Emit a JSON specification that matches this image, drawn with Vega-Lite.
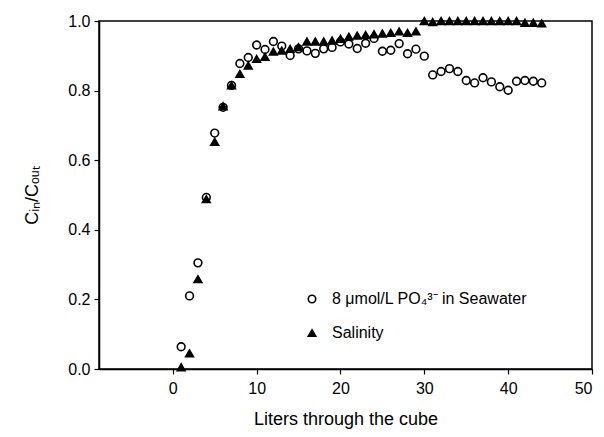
{
  "$schema": "https://vega.github.io/schema/vega-lite/v6.json",
  "width": 493,
  "height": 348,
  "autosize": {"type": "none"},
  "padding": {"left": 99, "top": 21, "right": 12, "bottom": 68},
  "background": "white",
  "config": {
    "font": "Liberation Sans",
    "view": {"stroke": "black", "strokeWidth": 1.5},
    "axis": {"grid": false, "domainColor": "black", "domainWidth": 1.5, "tickColor": "black", "tickWidth": 1.2, "tickSize": 5, "labelColor": "black", "labelFontSize": 16, "titleColor": "black", "titleFontSize": 18, "titleFontWeight": "normal", "labelFont": "Liberation Sans", "titleFont": "Liberation Sans"},
    "legend": {"title": null, "orient": "none", "legendX": 205, "legendY": 270, "labelFontSize": 16, "labelColor": "black", "labelOffset": 12, "labelLimit": 400, "rowPadding": 18, "symbolSize": 55, "symbolStrokeWidth": 1.6, "padding": 0}
  },
  "data": {"values": [
    {"L": 1, "s": "p", "v": 0.064}, {"L": 2, "s": "p", "v": 0.21}, {"L": 3, "s": "p", "v": 0.305}, {"L": 4, "s": "p", "v": 0.493},
    {"L": 5, "s": "p", "v": 0.678}, {"L": 6, "s": "p", "v": 0.752}, {"L": 7, "s": "p", "v": 0.815}, {"L": 8, "s": "p", "v": 0.878},
    {"L": 9, "s": "p", "v": 0.895}, {"L": 10, "s": "p", "v": 0.931}, {"L": 11, "s": "p", "v": 0.918}, {"L": 12, "s": "p", "v": 0.941},
    {"L": 13, "s": "p", "v": 0.928}, {"L": 14, "s": "p", "v": 0.901}, {"L": 15, "s": "p", "v": 0.92}, {"L": 16, "s": "p", "v": 0.914},
    {"L": 17, "s": "p", "v": 0.907}, {"L": 18, "s": "p", "v": 0.92}, {"L": 19, "s": "p", "v": 0.924}, {"L": 20, "s": "p", "v": 0.94},
    {"L": 21, "s": "p", "v": 0.934}, {"L": 22, "s": "p", "v": 0.921}, {"L": 23, "s": "p", "v": 0.936}, {"L": 24, "s": "p", "v": 0.95},
    {"L": 25, "s": "p", "v": 0.913}, {"L": 26, "s": "p", "v": 0.916}, {"L": 27, "s": "p", "v": 0.935}, {"L": 28, "s": "p", "v": 0.906},
    {"L": 29, "s": "p", "v": 0.919}, {"L": 30, "s": "p", "v": 0.899}, {"L": 31, "s": "p", "v": 0.845}, {"L": 32, "s": "p", "v": 0.855},
    {"L": 33, "s": "p", "v": 0.863}, {"L": 34, "s": "p", "v": 0.855}, {"L": 35, "s": "p", "v": 0.829}, {"L": 36, "s": "p", "v": 0.822},
    {"L": 37, "s": "p", "v": 0.837}, {"L": 38, "s": "p", "v": 0.825}, {"L": 39, "s": "p", "v": 0.811}, {"L": 40, "s": "p", "v": 0.801},
    {"L": 41, "s": "p", "v": 0.827}, {"L": 42, "s": "p", "v": 0.829}, {"L": 43, "s": "p", "v": 0.827}, {"L": 44, "s": "p", "v": 0.822},
    {"L": 1, "s": "s", "v": 0.005}, {"L": 2, "s": "s", "v": 0.045}, {"L": 3, "s": "s", "v": 0.258}, {"L": 4, "s": "s", "v": 0.488},
    {"L": 5, "s": "s", "v": 0.653}, {"L": 6, "s": "s", "v": 0.755}, {"L": 7, "s": "s", "v": 0.815}, {"L": 8, "s": "s", "v": 0.848},
    {"L": 9, "s": "s", "v": 0.872}, {"L": 10, "s": "s", "v": 0.891}, {"L": 11, "s": "s", "v": 0.897}, {"L": 12, "s": "s", "v": 0.912},
    {"L": 13, "s": "s", "v": 0.915}, {"L": 14, "s": "s", "v": 0.92}, {"L": 15, "s": "s", "v": 0.925}, {"L": 16, "s": "s", "v": 0.941},
    {"L": 17, "s": "s", "v": 0.941}, {"L": 18, "s": "s", "v": 0.941}, {"L": 19, "s": "s", "v": 0.944}, {"L": 20, "s": "s", "v": 0.949},
    {"L": 21, "s": "s", "v": 0.955}, {"L": 22, "s": "s", "v": 0.958}, {"L": 23, "s": "s", "v": 0.96}, {"L": 24, "s": "s", "v": 0.962},
    {"L": 25, "s": "s", "v": 0.964}, {"L": 26, "s": "s", "v": 0.966}, {"L": 27, "s": "s", "v": 0.97}, {"L": 28, "s": "s", "v": 0.966},
    {"L": 29, "s": "s", "v": 0.97}, {"L": 30, "s": "s", "v": 1.0}, {"L": 31, "s": "s", "v": 0.997}, {"L": 32, "s": "s", "v": 1.0},
    {"L": 33, "s": "s", "v": 1.0}, {"L": 34, "s": "s", "v": 1.0}, {"L": 35, "s": "s", "v": 1.0}, {"L": 36, "s": "s", "v": 1.0},
    {"L": 37, "s": "s", "v": 1.0}, {"L": 38, "s": "s", "v": 1.0}, {"L": 39, "s": "s", "v": 1.0}, {"L": 40, "s": "s", "v": 1.0},
    {"L": 41, "s": "s", "v": 1.0}, {"L": 42, "s": "s", "v": 0.995}, {"L": 43, "s": "s", "v": 0.995}, {"L": 44, "s": "s", "v": 0.993}
  ]},
  "transform": [{"calculate": "datum.s === 'p' ? '8 μmol/L PO₄³⁻ in Seawater' : 'Salinity'", "as": "series"}],
  "mark": {"type": "point", "filled": true, "clip": false, "strokeWidth": 1.6, "size": 60, "opacity": 1},
  "encoding": {
    "x": {"field": "L", "type": "quantitative", "scale": {"domain": [-8.8, 50], "nice": false, "zero": false},
      "axis": {"values": [0, 10, 20, 30, 40, 50], "title": "Liters through the cube", "titlePadding": 14, "labelPadding": 6}},
    "y": {"field": "v", "type": "quantitative", "scale": {"domain": [0, 1], "nice": false},
      "axis": {"values": [0, 0.2, 0.4, 0.6, 0.8, 1.0], "format": ".1f", "title": "Cᵢₙ/Cₒᵤₜ", "titlePadding": 26, "labelPadding": 4}},
    "shape": {"field": "series", "type": "nominal",
      "scale": {"domain": ["8 μmol/L PO₄³⁻ in Seawater", "Salinity"], "range": ["circle", "triangle-up"]}},
    "fill": {"field": "series", "type": "nominal",
      "scale": {"domain": ["8 μmol/L PO₄³⁻ in Seawater", "Salinity"], "range": ["white", "black"]}},
    "stroke": {"field": "series", "type": "nominal",
      "scale": {"domain": ["8 μmol/L PO₄³⁻ in Seawater", "Salinity"], "range": ["black", "black"]}}
  }
}
